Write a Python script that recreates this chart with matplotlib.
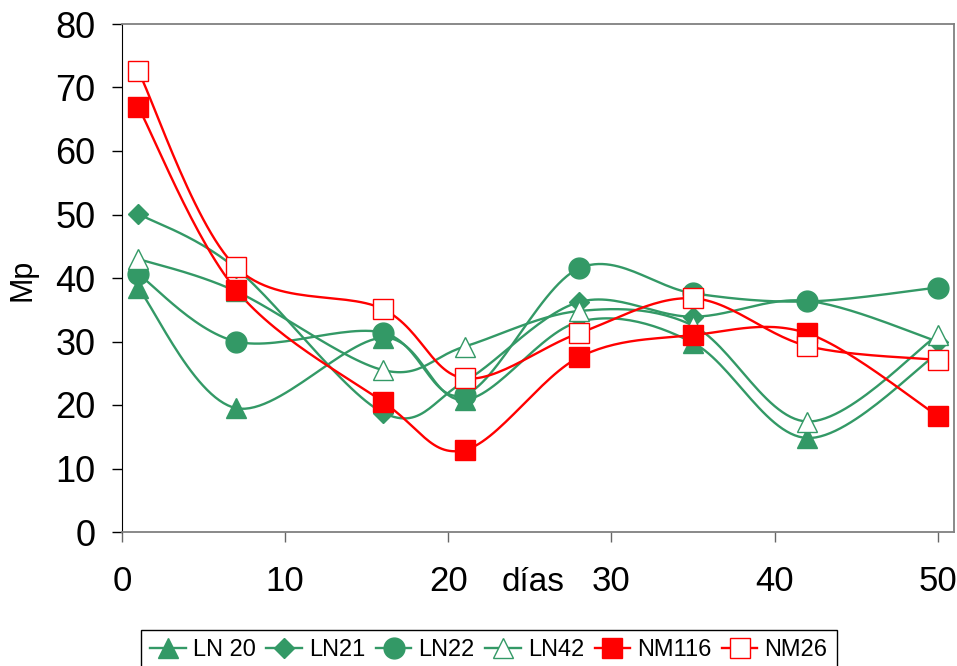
import numpy as np
import matplotlib.pyplot as plt

# Data
dias = [1, 7, 16, 21, 28, 35, 42, 50]
ln20 = [38.4, 19.5, 30.6, 20.8, 33.1, 29.8, 14.8, 28.1]
ln21 = [50.1, 41.5, 18.8, 23.7, 36.2, 33.9, 36.4, 30.0]
ln22 = [40.6, 30.0, 31.4, 21.6, 41.5, 37.6, 36.3, 38.5]
ln42 = [43.0, 37.9, 25.5, 29.2, 34.8, 32.5, 17.4, 31.0]
nm116 = [66.9, 38.1, 20.5, 12.9, 27.5, 31.0, 31.3, 18.3]
nm26 = [72.6, 41.7, 35.1, 24.2, 31.3, 36.8, 29.3, 27.1]

GREEN = '#339966'
RED = '#ff0000'

plt.rcParams['font.family'] = ['Liberation Sans', 'DejaVu Sans']


def smooth(x, y, n=30):
    # Excel-like smoothed line (Catmull-Rom via cubic Bezier)
    p = np.column_stack([x, y]).astype(float)
    p = np.vstack([p[0], p, p[-1]])
    t = np.linspace(0, 1, n)[:, None]
    out = []
    for i in range(1, len(p) - 2):
        p0, p1, p2, p3 = p[i - 1], p[i], p[i + 1], p[i + 2]
        c1 = p1 + (p2 - p0) / 6
        c2 = p2 - (p3 - p1) / 6
        seg = ((1 - t) ** 3) * p1 + 3 * ((1 - t) ** 2) * t * c1 + 3 * (1 - t) * t ** 2 * c2 + t ** 3 * p2
        out.append(seg if i == 1 else seg[1:])
    s = np.vstack(out)
    return s[:, 0], s[:, 1]


series = [
    ('LN 20', ln20, GREEN, '^', GREEN, 15),
    ('LN21', ln21, GREEN, 'D', GREEN, 10.5),
    ('LN22', ln22, GREEN, 'o', GREEN, 15),
    ('LN42', ln42, GREEN, '^', 'white', 14),
    ('NM116', nm116, RED, 's', RED, 14),
    ('NM26', nm26, RED, 's', 'white', 14),
]

fig = plt.figure(figsize=(9.57, 6.66), dpi=100)
ax = fig.add_axes([122 / 957, 1 - 532 / 666, 832 / 957, 508 / 666])

handles = []
for name, vals, col, mk, fc, ms in series:
    sx, sy = smooth(dias, vals)
    ax.plot(sx, sy, color=col, lw=1.7, zorder=2)
    ax.plot(dias, vals, ls='none', marker=mk, ms=ms, mfc=fc, mec=col,
            mew=1.0, zorder=3)
    h, = ax.plot([], [], color=col, lw=1.7, marker=mk, ms=ms, mfc=fc,
                 mec=col, mew=1.0)
    h.set_label(name)
    handles.append(h)

ax.set_xlim(0, 51)
ax.set_ylim(0, 80)
ax.set_xticks([0, 10, 20, 30, 40, 50])
ax.set_yticks(range(0, 81, 10))
ax.tick_params(axis='y', direction='out', length=7, width=1, labelsize=26, pad=12)
ax.tick_params(axis='x', direction='out', length=7, width=1, labelsize=25,
               pad=17, color='#666666')

for side in ['top', 'right', 'bottom']:
    ax.spines[side].set_color('#808080')
    ax.spines[side].set_linewidth(1.3)
ax.spines['left'].set_color('black')

ax.set_xlabel('días', fontsize=24, va='center')
ax.xaxis.set_label_coords(0.494, -0.10)
ax.set_ylabel('Mp', fontsize=22, va='center')
ax.yaxis.set_label_coords(-0.12, 0.496)

leg = fig.legend(handles=handles, loc='upper left',
                 bbox_to_anchor=(141 / 957, 1 - 630 / 666), ncol=6,
                 fontsize=17, frameon=True, fancybox=False, framealpha=1,
                 edgecolor='black', handlelength=1.5, handletextpad=0.3,
                 columnspacing=0.45, borderpad=0.4, borderaxespad=0)
leg.get_frame().set_linewidth(1.0)

fig.savefig('out.png', dpi=100)
